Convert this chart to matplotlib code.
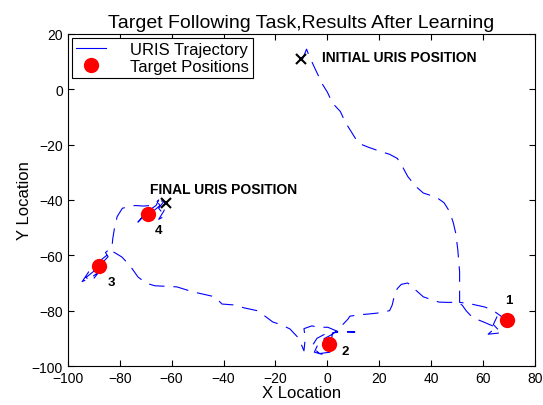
import matplotlib
matplotlib.use("Agg")
import matplotlib.pyplot as plt
from matplotlib.lines import Line2D

plt.rcParams['font.family'] = ['Liberation Sans', 'DejaVu Sans']

# Trajectory of URIS
traj_x = [-9.5, -8, -7, -5.5, -4, -2, 0, 2, 5, 7, 9, 12, 16, 20, 24, 27, 29, 31, 34, 37, 42,
          45, 47, 48.5, 49.5, 50.3, 51, 51, 51, 55, 60.8, 64, 67, 68, 66, 64, 66, 70, 67, 62,
          65, 60, 56, 53.5, 52, 50, 46, 43, 37, 34, 31, 28.5, 27, 26, 25, 24, 20, 16, 12, 8.7,
          8, 5, 2, -1, -3.5, -5, -1, 2, 3, -1, -4, -6, -3, 1, 2, 6, 10.6, 4, 0.2, -3, -6, -9,
          -8.5, -9, -11, -14.4, -18, -21, -24, -27, -32, -36.4, -40.6, -43.3, -48, -51.8, -58,
          -66.5, -70, -73, -76, -79.2, -82, -83.8, -85, -87, -90, -92, -94.5, -91, -88, -91,
          -93, -89, -86, -84.5, -85.5, -83, -82.7, -82, -81, -79, -76.9, -74, -71, -68, -66,
          -65, -66, -70, -72, -73, -71, -67, -64.5, -66, -63, -65, -62.6, -65, -63, -62]
traj_y = [11, 14.5, 12, 9, 6, 2, -1, -5, -8, -12, -15, -19.5, -21, -22.3, -23.5, -25, -28,
          -31.5, -35, -37.5, -39, -41, -44, -48, -52, -58, -66, -74, -77, -77.5, -78.7, -80,
          -82, -85, -87, -85, -81, -83, -88, -88.5, -86, -84, -82.5, -80, -78, -77, -77, -76.9,
          -75, -72.5, -70, -70.5, -72, -74, -78, -80, -80.8, -81.2, -81.5, -82, -83, -86, -88.5,
          -90, -92, -95, -96, -94, -91, -88.5, -90, -93, -95.5, -95, -88, -87.7, -87.7, -87.5,
          -86, -86, -85.5, -86.5, -90, -94.5, -90, -86.6, -85, -84.1, -82, -80, -79, -77.9,
          -77.6, -75, -74, -73.2, -71.4, -71, -70, -67.8, -63.8, -60.6, -59, -58.4, -60, -61.5,
          -64, -66, -69.5, -68, -66, -69.5, -68, -65, -62, -60.5, -59, -57, -54, -50, -46, -43,
          -42.5, -42, -42.2, -42, -41, -40, -42, -44.5, -47, -48, -46, -44, -42, -40, -40.5,
          -43, -45.8, -47, -44, -41]

# Target positions
target_x = [69.2, 0.6, -88, -69.2]
target_y = [-83.4, -92, -63.8, -45]
target_labels = ['1', '2', '3', '4']
label_x = [68.5, 5.5, -84.5, -66.5]
label_y = [-76, -94.5, -69.5, -51]

initial_pos = (-10, 11)
final_pos = (-62, -41)

fig = plt.figure(figsize=(5.43, 4.06), dpi=100)
ax = fig.add_axes([0.125, 0.096, 0.86, 0.818])

ax.plot(traj_x, traj_y, color='blue', linewidth=0.8, linestyle=(0, (14, 8)))
ax.plot(target_x, target_y, 'o', color='red', markersize=11, markeredgewidth=0)
for tx, ty, lab in zip(label_x, label_y, target_labels):
    ax.text(tx, ty, lab, fontsize=9.5, fontweight='bold', ha='left', va='center')

ax.plot(*initial_pos, 'x', color='black', markersize=7, markeredgewidth=1.5)
ax.plot(*final_pos, 'x', color='black', markersize=7, markeredgewidth=1.5)
ax.text(-2, 11.5, 'INITIAL URIS POSITION', fontsize=10, fontweight='bold', va='center')
ax.text(-68.5, -36, 'FINAL URIS POSITION', fontsize=10, fontweight='bold', va='center')

ax.set_xlim(-100, 80)
ax.set_ylim(-100, 20)
ax.set_xticks(range(-100, 81, 20))
ax.set_yticks(range(-100, 21, 20))
ax.tick_params(direction='in', top=True, right=True, labelsize=10, length=4)
ax.set_xlabel('X Location', fontsize=12, labelpad=0)
ax.set_ylabel('Y Location', fontsize=12, labelpad=0)
ax.set_title('Target Following Task,Results After Learning', fontsize=14, pad=5)

handles = [Line2D([], [], color='blue', linewidth=0.8),
           Line2D([], [], marker='o', color='red', linestyle='none', markersize=10)]
leg = ax.legend(handles, ['URIS Trajectory', 'Target Positions'], loc='upper left',
                fontsize=12, fancybox=False, framealpha=1, edgecolor='black',
                borderpad=0.25, labelspacing=0.12, handlelength=1.8, handletextpad=1.4,
                borderaxespad=0.25)
leg.get_frame().set_linewidth(0.8)

fig.savefig('out.png', dpi=100)
